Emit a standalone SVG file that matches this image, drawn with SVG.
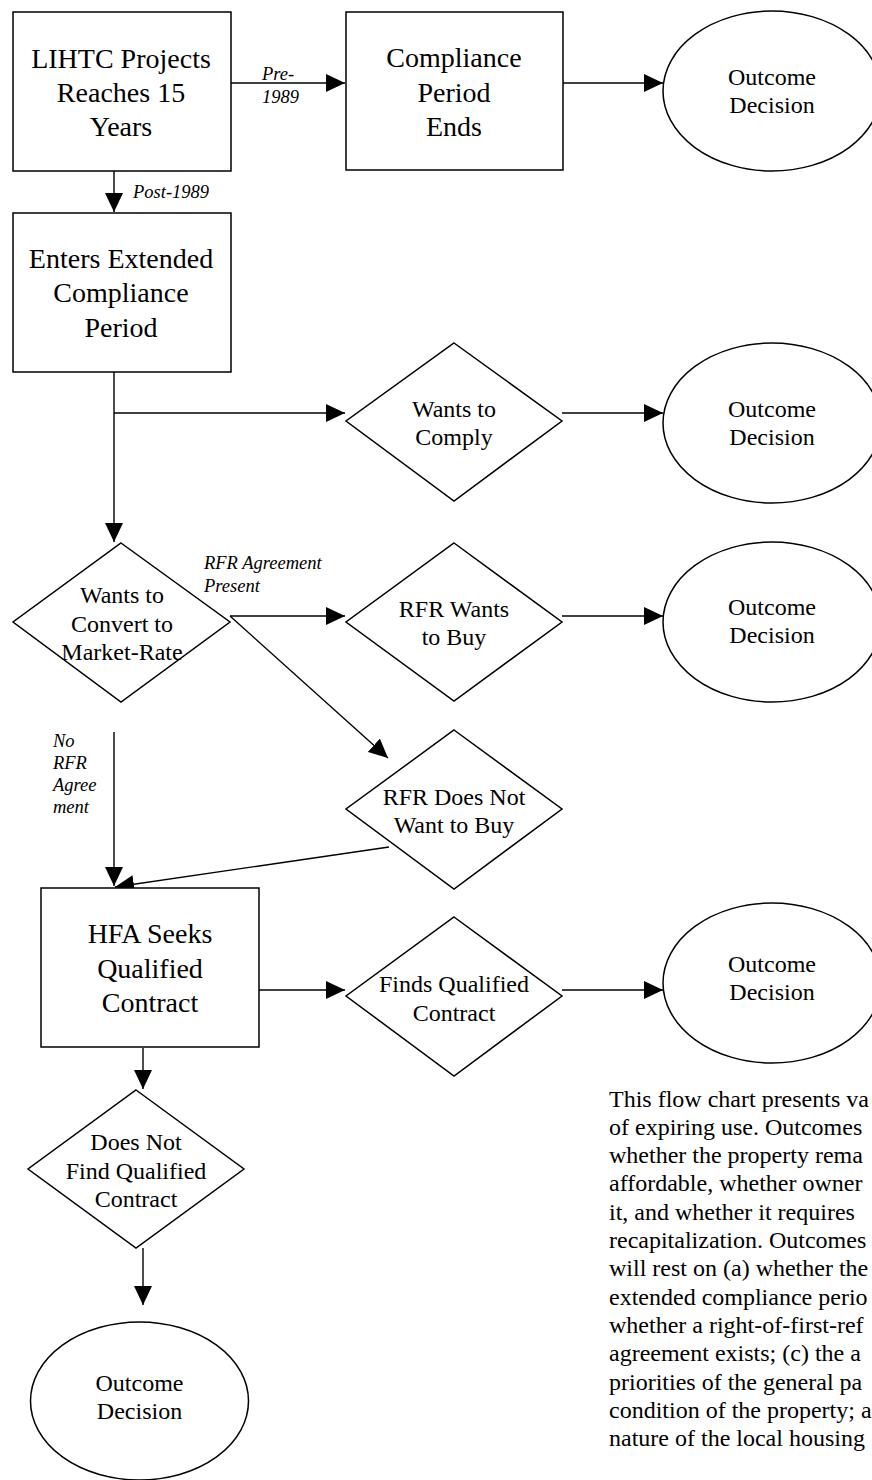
<svg xmlns="http://www.w3.org/2000/svg" width="872" height="1480" viewBox="0 0 872 1480">
<style>
text{font-family:"Liberation Serif","Times New Roman",serif;fill:#000}
.n{font-size:28px;text-anchor:middle}
.d{font-size:24px;text-anchor:middle}
.l{font-size:18.5px;font-style:italic}
.p{font-size:24px}
.shape{fill:#fff;stroke:#000;stroke-width:1.5}
.c{fill:none;stroke:#000;stroke-width:1.4}
</style>
<defs>
<marker id="ah" markerUnits="userSpaceOnUse" markerWidth="19" markerHeight="18" refX="19" refY="9" orient="auto">
<path d="M0,0 L19,9 L0,18 z" fill="#000"/>
</marker>
</defs>
<rect width="872" height="1480" fill="#fff"/>

<g id="connectors">
<line class="c" x1="231" y1="83" x2="345" y2="83" marker-end="url(#ah)"/>
<line class="c" x1="563" y1="83" x2="663" y2="83" marker-end="url(#ah)"/>
<line class="c" x1="114" y1="171" x2="114" y2="212" marker-end="url(#ah)"/>
<line class="c" x1="114" y1="372" x2="114" y2="542" marker-end="url(#ah)"/>
<line class="c" x1="114" y1="413" x2="345" y2="413" marker-end="url(#ah)"/>
<line class="c" x1="562" y1="413" x2="663" y2="413" marker-end="url(#ah)"/>
<line class="c" x1="230" y1="616" x2="345" y2="616" marker-end="url(#ah)"/>
<line class="c" x1="230" y1="616" x2="388" y2="758" marker-end="url(#ah)"/>
<line class="c" x1="562" y1="616" x2="663" y2="616" marker-end="url(#ah)"/>
<line class="c" x1="114" y1="732" x2="114" y2="886" marker-end="url(#ah)"/>
<line class="c" x1="389" y1="847" x2="115" y2="887" marker-end="url(#ah)"/>
<line class="c" x1="259" y1="990" x2="345" y2="990" marker-end="url(#ah)"/>
<line class="c" x1="562" y1="990" x2="663" y2="990" marker-end="url(#ah)"/>
<line class="c" x1="143" y1="1048" x2="143" y2="1089" marker-end="url(#ah)"/>
<line class="c" x1="143" y1="1248" x2="143" y2="1305" marker-end="url(#ah)"/>
<text class="l" x="262" y="80">Pre-</text>
<text class="l" x="262" y="103">1989</text>
<text class="l" x="133" y="198">Post-1989</text>
<text class="l" x="204" y="569">RFR Agreement</text>
<text class="l" x="204" y="592">Present</text>
<text class="l" x="53" y="747">No</text>
<text class="l" x="53" y="769">RFR</text>
<text class="l" x="53" y="791">Agree</text>
<text class="l" x="53" y="813">ment</text>
</g>

<g id="lihtc">
<rect class="shape" x="13" y="12" width="218" height="159"/>
<text class="n" x="121" y="68">LIHTC Projects</text>
<text class="n" x="121" y="102">Reaches 15</text>
<text class="n" x="121" y="136">Years</text>
</g>

<g id="compliance-ends">
<rect class="shape" x="346" y="12" width="217" height="158"/>
<text class="n" x="454" y="67">Compliance</text>
<text class="n" x="454" y="102">Period</text>
<text class="n" x="454" y="136">Ends</text>
</g>

<g id="outcome1">
<ellipse class="shape" cx="772" cy="91" rx="109" ry="80"/>
<text class="d" x="772" y="85">Outcome</text>
<text class="d" x="772" y="113">Decision</text>
</g>

<g id="extended">
<rect class="shape" x="13" y="213" width="218" height="159"/>
<text class="n" x="121" y="268">Enters Extended</text>
<text class="n" x="121" y="302">Compliance</text>
<text class="n" x="121" y="337">Period</text>
</g>

<g id="comply">
<polygon class="shape" points="454,343 562,421 454,501 346,421"/>
<text class="d" x="454" y="417">Wants to</text>
<text class="d" x="454" y="445">Comply</text>
</g>

<g id="outcome2">
<ellipse class="shape" cx="772" cy="423" rx="109" ry="80"/>
<text class="d" x="772" y="417">Outcome</text>
<text class="d" x="772" y="445">Decision</text>
</g>

<g id="convert">
<polygon class="shape" points="121,543 230,622 121,702 13,622"/>
<text class="d" x="122" y="603">Wants to</text>
<text class="d" x="122" y="632">Convert to</text>
<text class="d" x="122" y="660">Market-Rate</text>
</g>

<g id="rfr-buy">
<polygon class="shape" points="454,543 562,622 454,701 346,622"/>
<text class="d" x="454" y="617">RFR Wants</text>
<text class="d" x="454" y="645">to Buy</text>
</g>

<g id="outcome3">
<ellipse class="shape" cx="772" cy="622" rx="109" ry="80"/>
<text class="d" x="772" y="615">Outcome</text>
<text class="d" x="772" y="643">Decision</text>
</g>

<g id="rfr-not-buy">
<polygon class="shape" points="454,730 562,809 454,889 346,809"/>
<text class="d" x="454" y="805">RFR Does Not</text>
<text class="d" x="454" y="833">Want to Buy</text>
</g>

<g id="hfa">
<rect class="shape" x="41" y="888" width="218" height="159"/>
<text class="n" x="150" y="943">HFA Seeks</text>
<text class="n" x="150" y="978">Qualified</text>
<text class="n" x="150" y="1012">Contract</text>
</g>

<g id="finds">
<polygon class="shape" points="454,917 562,996 454,1076 346,996"/>
<text class="d" x="454" y="992">Finds Qualified</text>
<text class="d" x="454" y="1021">Contract</text>
</g>

<g id="outcome4">
<ellipse class="shape" cx="772" cy="983" rx="109" ry="80"/>
<text class="d" x="772" y="972">Outcome</text>
<text class="d" x="772" y="1000">Decision</text>
</g>

<g id="not-find">
<polygon class="shape" points="136,1090 244,1169 136,1248 28,1169"/>
<text class="d" x="136" y="1150">Does Not</text>
<text class="d" x="136" y="1179">Find Qualified</text>
<text class="d" x="136" y="1207">Contract</text>
</g>

<g id="outcome5">
<ellipse class="shape" cx="139.5" cy="1401" rx="109" ry="79"/>
<text class="d" x="139.5" y="1391">Outcome</text>
<text class="d" x="139.5" y="1419">Decision</text>
</g>

<g id="note">
<text class="p" x="609" y="1106.5">This flow chart presents va</text>
<text class="p" x="609" y="1134.8">of expiring use. Outcomes</text>
<text class="p" x="609" y="1163.1">whether the property rema</text>
<text class="p" x="609" y="1191.4">affordable, whether owner</text>
<text class="p" x="609" y="1219.7">it, and whether it requires</text>
<text class="p" x="609" y="1248">recapitalization. Outcomes</text>
<text class="p" x="609" y="1276.3">will rest on (a) whether the</text>
<text class="p" x="609" y="1304.6">extended compliance perio</text>
<text class="p" x="609" y="1332.9">whether a right-of-first-ref</text>
<text class="p" x="609" y="1361.2">agreement exists; (c) the a</text>
<text class="p" x="609" y="1389.5">priorities of the general pa</text>
<text class="p" x="609" y="1417.8">condition of the property; a</text>
<text class="p" x="609" y="1446.1">nature of the local housing</text>
</g>
</svg>
